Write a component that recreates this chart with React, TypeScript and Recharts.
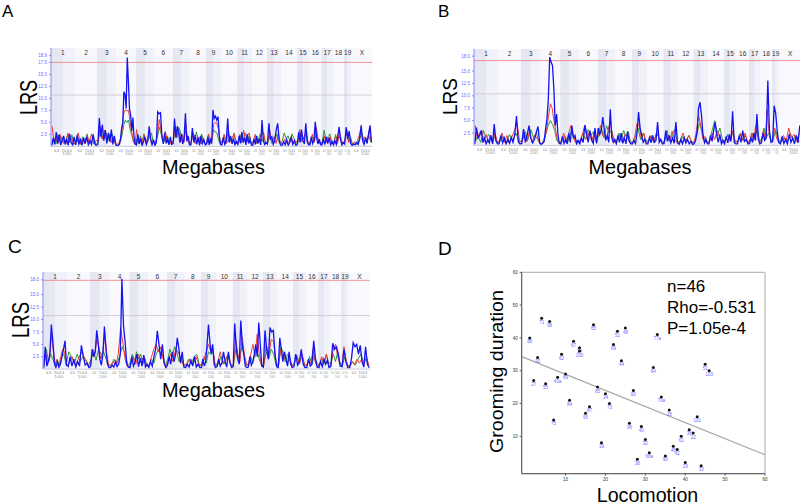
import {
  ComposedChart,
  Line,
  Scatter,
  XAxis,
  YAxis,
  ReferenceArea,
  ReferenceLine,
} from 'recharts'

// mouse genome, Mb per chromosome
const chromosomes = ['1', '2', '3', '4', '5', '6', '7', '8', '9', '10', '11', '12', '13', '14', '15', '16', '17', '18', '19', 'X']
const chromosomeLengths = [195.5, 182.1, 160.0, 156.5, 151.8, 149.7, 145.4, 129.4, 124.6, 130.7, 122.1, 120.1, 120.4, 124.9, 104.0, 98.2, 95.0, 90.7, 61.4, 171.0]

// LRS traces, one row per chromosome
const aBlue = [
  [0.2, 1.8, 0.4, 3.0, 0.6, 2.4, 0.3, 1.2, 2.2, 0.4, 1.6, 0.2, 2.6, 0.8, 0.3, 2.0],
  [0.3, 2.4, 0.5, 1.4, 0.2, 1.8, 0.6, 2.0, 0.3, 1.2, 0.4, 2.5, 0.5, 0.2],
  [0.4, 5.9, 2.0, 4.5, 1.2, 3.4, 0.6, 2.8, 1.0, 3.5, 0.4, 2.2, 0.3],
  [0.1, 0.2, 0.4, 1.6, 3.8, 5.0, 11.4, 10.8, 7.9, 18.5, 13.5, 7.8, 6.5, 3.2, 6.0, 2.0, 0.5],
  [0.3, 2.5, 0.5, 1.6, 0.2, 1.0, 2.0, 0.4, 1.2, 4.2, 1.5, 0.3, 1.4],
  [0.2, 0.8, 7.2, 6.8, 7.0, 2.0, 0.5, 2.8, 0.6, 1.6, 0.3, 2.0, 0.4],
  [0.6, 5.8, 1.8, 4.2, 3.0, 0.8, 2.6, 0.5, 1.5, 6.9, 1.0, 2.2, 0.3],
  [0.3, 3.8, 0.8, 2.4, 0.4, 1.8, 0.2, 2.2, 0.6, 1.4, 0.3],
  [0.5, 2.0, 0.3, 1.4, 0.6, 7.6, 5.8, 6.3, 5.5, 6.2, 2.0, 0.4],
  [0.3, 1.8, 0.4, 1.2, 5.8, 0.8, 2.2, 0.5, 1.6, 0.3, 1.0],
  [0.4, 2.2, 0.6, 3.0, 0.8, 1.8, 0.3, 2.5, 0.6, 1.5, 0.3],
  [0.2, 1.5, 0.4, 2.2, 0.6, 1.6, 0.3, 5.5, 1.2, 0.4, 0.8],
  [0.5, 4.8, 1.6, 2.0, 0.4, 1.2, 3.5, 4.8, 1.2, 0.3],
  [0.2, 1.0, 0.3, 1.4, 0.2, 0.8, 1.8, 0.4, 1.2, 0.2],
  [0.4, 3.0, 0.8, 3.5, 1.2, 0.5, 4.8, 1.0, 0.3],
  [0.3, 2.0, 0.6, 1.4, 5.1, 1.8, 0.5, 1.5, 0.3],
  [0.3, 1.5, 0.4, 2.0, 0.6, 1.8, 0.3, 1.0],
  [0.3, 1.2, 0.4, 2.0, 4.1, 1.5, 0.3, 0.8],
  [0.5, 4.0, 1.5, 3.2, 0.6],
  [0.2, 0.5, 0.3, 0.8, 0.4, 1.5, 4.4, 1.2, 0.4, 1.8, 0.6, 2.5, 4.4, 0.8],
]
const aRed = [
  [4.3, 1.0, 2.0, 0.6, 2.5, 0.8, 1.5, 0.5, 2.8, 1.0, 1.6, 0.5],
  [0.8, 2.8, 0.6, 1.5, 0.5, 2.2, 0.8, 2.6, 0.5, 1.2],
  [1.2, 4.0, 1.5, 3.4, 1.0, 2.6, 0.8, 2.0, 0.5],
  [0.4, 0.8, 1.5, 3.6, 6.9, 7.6, 7.4, 7.5, 5.0, 3.0, 1.2, 0.5],
  [3.5, 1.0, 1.8, 0.5, 2.4, 0.8, 1.8, 3.0, 0.6, 1.0],
  [0.6, 2.0, 5.6, 3.0, 1.0, 3.2, 0.8, 1.2, 0.4],
  [1.2, 4.2, 2.0, 3.5, 1.0, 2.5, 0.8, 4.5, 1.5, 0.6],
  [0.8, 2.8, 0.6, 1.4, 2.0, 0.5, 1.6, 0.6],
  [0.6, 2.5, 0.8, 1.2, 4.6, 5.0, 4.8, 3.5, 0.8],
  [1.0, 2.4, 0.6, 3.2, 1.0, 1.8, 2.6, 0.6],
  [0.6, 2.0, 0.8, 3.4, 1.2, 2.2, 2.8, 0.6],
  [0.8, 2.5, 0.6, 1.5, 2.0, 3.0, 0.6],
  [1.0, 3.0, 1.0, 2.0, 0.6, 2.8, 0.8],
  [0.5, 1.5, 0.6, 1.0, 2.0, 0.5, 1.2],
  [0.8, 3.5, 1.0, 2.0, 3.2, 0.8],
  [0.8, 2.5, 1.0, 4.0, 1.2, 0.6],
  [0.6, 2.2, 0.8, 1.5, 2.0, 0.5],
  [0.8, 2.2, 0.6, 3.0, 1.6, 0.5],
  [1.0, 3.0, 0.8, 1.5],
  [0.4, 1.0, 0.6, 2.0, 3.5, 1.2, 2.0, 0.8, 3.4, 1.0],
]
const aGreen = [
  [0.4, 1.5, 0.5, 2.5, 1.0, 2.0, 0.6, 1.2, 2.6, 0.8, 2.4, 0.5],
  [0.6, 1.5, 0.4, 2.0, 1.0, 2.6, 0.6, 1.2, 1.8, 0.4],
  [0.8, 3.5, 1.6, 2.8, 3.0, 1.2, 2.2, 2.8, 1.5, 0.5],
  [0.2, 0.6, 1.0, 2.5, 4.5, 5.5, 5.0, 5.5, 3.5, 2.5, 1.0, 0.4],
  [1.5, 0.6, 2.2, 1.0, 2.6, 0.6, 1.2, 2.0, 2.8, 0.8],
  [0.8, 1.8, 4.0, 2.5, 0.8, 1.5, 2.2, 0.6, 1.0],
  [1.0, 3.5, 1.8, 4.0, 3.0, 1.0, 2.0, 3.2, 2.0, 0.6],
  [0.8, 2.5, 1.0, 3.0, 1.5, 0.6, 2.6, 1.2, 0.5],
  [0.8, 2.6, 0.6, 1.5, 3.5, 3.0, 2.8, 1.2, 0.5],
  [1.2, 2.5, 0.6, 1.2, 2.0, 0.8, 2.8, 0.6],
  [0.8, 2.5, 1.0, 1.5, 2.8, 1.0, 2.2, 0.6],
  [1.0, 2.0, 0.6, 1.5, 2.6, 1.0, 1.8, 0.5],
  [0.8, 2.2, 0.6, 1.5, 2.6, 1.2, 0.5],
  [1.2, 2.8, 1.6, 2.2, 1.0, 2.6, 1.8, 0.6],
  [0.8, 2.6, 1.0, 1.8, 2.4, 0.6],
  [0.6, 2.0, 0.8, 2.8, 1.5, 0.5],
  [1.0, 3.4, 1.2, 2.0, 2.6, 0.8],
  [0.8, 2.5, 1.0, 2.0, 1.2, 0.5],
  [1.2, 3.5, 1.0, 2.0],
  [0.3, 0.8, 0.4, 1.5, 2.8, 1.0, 1.5, 2.2, 0.8],
]

const bBlue = [
  [0.3, 3.6, 1.5, 2.0, 3.0, 0.6, 1.5, 0.3, 1.2, 0.5, 2.0, 0.3, 4.3, 1.0, 0.3],
  [0.3, 2.0, 0.5, 1.5, 0.3, 1.2, 0.4, 1.6, 0.6, 2.2, 5.9, 0.8, 0.3],
  [0.4, 3.3, 0.6, 2.0, 4.0, 1.5, 0.5, 1.2, 2.5, 3.8, 0.4],
  [0.2, 0.4, 0.8, 3.3, 5.3, 9.3, 17.8, 16.8, 16.1, 11.4, 4.0, 6.3, 2.0, 0.4],
  [0.3, 1.8, 0.4, 1.2, 0.3, 2.5, 0.6, 4.0, 1.5, 2.0, 0.3, 1.0],
  [0.3, 1.5, 0.6, 4.1, 2.5, 0.6, 3.0, 1.2, 0.4, 3.5, 0.4],
  [3.5, 2.2, 3.0, 5.7, 3.2, 1.0, 2.0, 0.6, 7.3, 1.5, 0.6, 1.2],
  [0.3, 2.0, 0.6, 2.5, 0.4, 1.5, 0.3, 2.8, 0.8, 0.3],
  [0.3, 1.0, 0.4, 2.5, 6.7, 3.5, 2.0, 0.6, 1.2, 0.3],
  [0.3, 1.6, 0.5, 2.0, 0.6, 1.0, 4.7, 0.6, 1.2, 0.3],
  [0.4, 3.0, 0.8, 2.0, 0.5, 1.5, 0.4, 4.7, 0.5],
  [0.2, 1.2, 0.3, 1.5, 0.5, 1.2, 0.3, 0.8, 0.2],
  [0.3, 1.0, 2.5, 7.5, 8.7, 6.0, 2.0, 0.5, 1.2, 0.3],
  [0.3, 2.0, 0.8, 3.0, 4.7, 2.0, 0.6, 2.2, 0.3, 1.0],
  [0.3, 1.8, 0.5, 2.2, 0.8, 6.9, 0.6, 0.3],
  [0.3, 2.0, 0.6, 3.0, 0.8, 1.2, 0.3],
  [0.4, 1.5, 0.6, 2.5, 1.0, 6.3, 1.2, 0.3],
  [0.5, 2.5, 1.0, 1.5, 13.1, 3.0, 0.6],
  [0.8, 8.0, 6.5, 3.0, 0.6],
  [0.3, 1.8, 0.4, 1.2, 0.3, 2.2, 0.6, 1.5, 0.3, 2.0, 0.5, 4.0],
]
const bRed = [
  [4.1, 1.5, 2.5, 3.0, 0.8, 2.2, 0.6, 2.0, 0.5, 2.5, 0.8],
  [0.8, 2.5, 0.6, 2.0, 0.5, 1.8, 3.0, 4.5, 0.8],
  [0.8, 2.5, 0.8, 2.8, 0.6, 2.0, 1.5, 0.5],
  [0.3, 0.8, 1.5, 3.5, 6.0, 8.4, 7.5, 5.0, 3.0, 1.0, 0.4],
  [0.8, 2.5, 0.6, 2.0, 4.0, 2.2, 0.6, 1.0],
  [0.8, 2.2, 4.0, 1.2, 2.8, 0.8, 2.5, 0.6],
  [2.5, 4.0, 2.0, 3.0, 1.2, 3.5, 5.0, 1.5, 0.6],
  [0.8, 2.0, 0.6, 2.2, 1.5, 0.5],
  [0.6, 1.8, 4.5, 3.8, 1.2, 2.5, 0.6],
  [0.8, 2.0, 0.6, 2.5, 1.5, 0.5],
  [0.8, 2.2, 0.8, 2.8, 1.2, 0.5],
  [0.8, 2.5, 0.8, 2.0, 0.6],
  [0.6, 3.0, 6.0, 4.0, 1.2, 1.8, 0.5],
  [0.8, 2.5, 1.2, 3.0, 1.5, 0.6],
  [1.0, 2.0, 0.8, 3.0, 0.6],
  [0.8, 2.2, 1.0, 2.5, 0.6],
  [0.8, 2.5, 1.0, 4.0, 2.0, 0.6],
  [1.0, 3.0, 1.2, 7.3, 2.5, 0.8],
  [1.2, 3.5, 1.5, 0.6],
  [0.6, 2.0, 0.8, 3.5, 1.5, 2.2, 0.8, 2.5],
]
const bGreen = [
  [0.8, 2.0, 0.6, 3.0, 1.5, 2.2, 0.8, 1.8, 0.5],
  [0.8, 1.8, 0.6, 2.2, 1.0, 2.5, 0.6],
  [1.0, 2.8, 1.2, 3.2, 1.5, 2.5, 0.6],
  [0.3, 1.2, 2.5, 4.0, 5.0, 4.2, 3.0, 1.0, 0.4],
  [0.8, 2.0, 0.8, 2.6, 1.5, 0.6],
  [1.0, 2.5, 1.2, 3.2, 2.0, 2.8, 0.8],
  [2.0, 3.5, 1.5, 4.0, 2.5, 3.0, 1.0],
  [0.8, 2.5, 1.0, 3.0, 1.8, 2.8, 0.8],
  [0.6, 2.0, 3.5, 1.2, 2.5, 1.0],
  [0.8, 1.8, 0.6, 2.5, 1.5, 0.6],
  [0.8, 3.0, 1.0, 2.0, 3.2, 0.8],
  [0.6, 1.8, 0.8, 2.0, 0.6],
  [0.8, 2.5, 4.5, 3.0, 1.0, 0.5],
  [1.0, 3.0, 5.0, 2.0, 3.5, 1.2],
  [0.8, 2.2, 1.0, 2.5, 0.8],
  [0.8, 2.5, 1.0, 2.0, 0.6],
  [1.0, 2.5, 1.2, 3.5, 1.0],
  [1.2, 3.5, 1.5, 2.5, 1.0],
  [1.2, 3.0, 1.2],
  [0.6, 1.5, 0.6, 2.5, 1.2, 2.0, 0.8],
]

const cBlue = [
  [0.3, 4.5, 0.6, 1.5, 3.0, 9.0, 5.5, 1.2, 0.3, 1.5, 0.4, 1.0, 2.5, 4.0, 5.7, 0.8],
  [0.5, 2.5, 0.6, 2.0, 0.4, 1.5, 0.6, 4.8, 2.5, 0.8, 1.2, 0.3],
  [0.6, 4.0, 2.5, 3.5, 7.8, 5.0, 2.0, 0.8, 3.0, 8.6, 4.0, 1.0, 0.3],
  [0.3, 0.8, 0.4, 1.5, 0.5, 1.0, 3.0, 18.2, 8.7, 5.5, 1.0, 0.4],
  [0.3, 2.5, 0.6, 1.5, 3.0, 0.5, 2.2, 0.6, 2.8, 0.4, 1.0],
  [0.3, 1.5, 0.6, 2.5, 4.0, 7.7, 5.0, 2.0, 5.0, 1.2, 0.3],
  [0.8, 2.5, 1.0, 3.5, 1.5, 3.0, 6.3, 4.0, 1.2, 3.5, 0.4],
  [0.3, 1.0, 0.4, 1.8, 0.6, 2.5, 0.4, 1.0, 0.3],
  [0.3, 2.0, 0.6, 1.5, 5.0, 9.0, 5.5, 3.0, 5.0, 1.0, 0.3],
  [0.5, 2.0, 0.6, 1.2, 3.5, 1.5, 0.4, 3.5, 1.2, 0.3],
  [0.5, 9.2, 4.5, 2.0, 1.0, 9.8, 5.0, 3.0, 0.6, 0.3],
  [0.4, 2.5, 0.8, 1.5, 3.0, 5.0, 2.5, 9.4, 5.0, 0.6],
  [0.4, 7.8, 4.0, 2.0, 8.4, 7.5, 7.8, 3.0, 0.5],
  [0.3, 6.3, 4.0, 1.5, 3.5, 2.0, 0.6, 3.5, 1.0, 0.3],
  [0.5, 3.0, 0.8, 1.5, 4.0, 1.0, 0.3],
  [0.3, 2.0, 0.6, 1.0, 5.7, 2.0, 0.4],
  [0.3, 1.5, 0.5, 2.0, 1.0, 1.8, 0.3],
  [0.5, 5.2, 4.0, 4.5, 3.0, 0.6],
  [0.5, 4.0, 1.5, 0.3],
  [0.3, 2.0, 5.3, 4.5, 5.0, 3.0, 4.8, 1.5, 0.4, 4.5, 1.0, 0.3],
]
const cRed = [
  [0.8, 3.0, 1.2, 2.0, 6.7, 4.0, 1.0, 2.0, 0.6, 2.5, 4.0, 3.5, 0.8],
  [1.0, 2.5, 0.8, 2.2, 3.5, 2.0, 0.6],
  [1.2, 4.0, 3.0, 6.0, 4.5, 2.0, 3.5, 7.0, 3.0, 0.8],
  [0.6, 1.5, 0.8, 3.0, 8.5, 5.0, 1.5, 0.4],
  [0.8, 2.5, 1.0, 3.0, 1.2, 2.5, 0.6],
  [0.8, 2.5, 4.0, 5.0, 3.5, 4.5, 2.0, 0.6],
  [1.2, 3.0, 1.5, 4.0, 3.5, 2.0, 0.8],
  [0.8, 2.0, 0.8, 2.5, 0.8],
  [0.8, 2.0, 3.5, 5.0, 3.5, 4.0, 0.8],
  [1.2, 3.5, 1.0, 2.0, 3.0, 0.8],
  [0.8, 6.0, 3.0, 1.5, 6.5, 3.0, 0.8],
  [1.2, 3.0, 5.0, 2.5, 7.0, 3.0, 0.8],
  [0.8, 5.0, 2.5, 6.0, 5.5, 1.2],
  [0.8, 4.0, 2.0, 2.5, 1.2, 2.0, 0.6],
  [1.2, 2.5, 1.0, 3.0, 0.8],
  [0.8, 2.0, 1.0, 4.0, 1.5, 0.6],
  [0.8, 2.5, 1.2, 3.0, 0.6],
  [0.8, 4.0, 5.0, 2.5, 0.8],
  [0.8, 4.5, 2.0, 0.6],
  [0.6, 1.5, 0.8, 2.0, 1.2, 2.0, 1.0, 2.5, 0.8],
]
const cGreen = [
  [1.2, 4.0, 1.5, 3.0, 2.0, 0.8, 1.8, 0.6, 2.5, 3.0, 0.8],
  [3.5, 2.5, 1.2, 3.0, 1.5, 2.5, 2.0, 0.8],
  [2.0, 3.5, 1.8, 4.0, 3.0, 3.5, 2.0, 0.8],
  [0.8, 2.0, 1.0, 2.5, 4.5, 3.0, 0.8],
  [1.2, 3.0, 1.5, 3.5, 2.0, 3.0, 1.0, 2.2, 0.6],
  [0.8, 2.0, 1.2, 3.0, 4.0, 3.0, 2.5, 0.8],
  [2.0, 4.0, 2.5, 4.5, 3.5, 1.5, 2.5, 0.8],
  [0.8, 2.0, 1.0, 2.5, 3.0, 0.8],
  [0.8, 2.5, 1.2, 3.5, 3.0, 3.5, 0.8],
  [0.8, 2.5, 1.0, 2.8, 0.8],
  [0.8, 4.0, 2.0, 3.0, 4.5, 2.5, 0.8],
  [0.8, 2.5, 1.2, 3.0, 3.5, 2.0, 0.8],
  [0.8, 3.5, 2.0, 4.0, 3.0, 0.8],
  [0.8, 4.5, 3.5, 1.5, 3.0, 2.5, 0.8],
  [1.0, 2.8, 1.2, 3.0, 0.8],
  [0.8, 2.5, 1.0, 3.0, 1.2],
  [0.8, 2.0, 1.0, 3.0, 1.2],
  [1.2, 3.0, 1.5, 3.5, 1.2],
  [0.8, 2.5, 0.8],
  [0.6, 1.5, 0.8, 2.0, 3.0, 1.5, 2.0, 0.8],
]

// panel D: rank of locomotion vs rank of grooming duration
const locomotionRank = [1, 2, 3, 4, 5, 6, 7, 8, 9, 10, 11, 12, 13.5, 13.5, 15, 16, 17, 18, 19, 20, 21, 22, 23, 24, 25, 26, 27, 28, 29, 30, 31, 32, 33, 34, 35, 36, 37, 38, 39, 40, 41, 42, 43, 44, 45, 46]
const groomingRank = [40, 27, 34, 46, 26, 45, 15, 28, 35, 29, 21, 39, 37, 36, 17, 19, 44, 25, 8, 23, 20, 38, 42, 33, 43, 14, 24, 3, 13, 9, 5, 31, 41, 22, 4, 18, 7, 6, 10, 2, 12, 11, 16, 1, 32, 30]
const strainLabels = ['86', '27', '92', '71', '55', '98', '75', '43a', '62', '69', '84', '67', '34', '100', '56', '87', '65', '85', '39', '24', '73', '89', '51', '44', '48', '96', '60', '38', '40', '32', '68a', '64', '77a', '70a', '90', '28', '45', '42', '61', '29', '36', '22', '101', '33', '51', '103']
const fitLine = [
  { x: -1, y: 34.3 },
  { x: 60, y: 4.4 },
]
const statsLines = ['n=46', 'Rho=-0.531', 'P=1.05e-4']

const chrStarts = chromosomeLengths.map((_, i) => chromosomeLengths.slice(0, i).reduce((s, v) => s + v, 0))
const genomeLength = chromosomeLengths.reduce((s, v) => s + v, 0)
const chrCenters = chrStarts.map((s, i) => s + chromosomeLengths[i] / 2)

function traceFrom(values: number[][]) {
  const out: { mb: number; lrs: number }[] = []
  values.forEach((chr, i) => {
    chr.forEach((v, j) => {
      out.push({ mb: chrStarts[i] + ((j + 0.5) / chr.length) * chromosomeLengths[i], lrs: v })
    })
  })
  return out
}

const Y_AXIS_W = 30
const X_AXIS_H = 14
const FONT = '"Liberation Sans", Arial, sans-serif'

// eslint-disable-next-line @typescript-eslint/no-explicit-any
function MbTick({ x, y, index, plotWidth }: any) {
  const w = (chromosomeLengths[index] / genomeLength) * plotWidth
  return (
    <g>
      <text x={x} y={y + 3.2} fontSize={2.8} fill="#9a9a9a" textAnchor="middle" fontFamily={FONT} textLength={w * 0.75} lengthAdjust="spacingAndGlyphs">0 50</text>
      <text x={x + w * 0.15} y={y + 6.6} fontSize={2.8} fill="#9a9a9a" textAnchor="middle" fontFamily={FONT} textLength={w * 0.4} lengthAdjust="spacingAndGlyphs">100</text>
    </g>
  )
}

type PanelProps = {
  left: number
  top: number
  plotWidth: number
  plotHeight: number
  yTop: number
  ticks: number[]
  sig: number
  sugg: number
  blue: number[][]
  red: number[][]
  green: number[][]
}

function LrsPanel(p: PanelProps) {
  return (
    <div style={{ position: 'absolute', left: p.left - Y_AXIS_W, top: p.top }}>
      <ComposedChart
        width={Y_AXIS_W + p.plotWidth}
        height={p.plotHeight + X_AXIS_H}
        margin={{ top: 0, right: 0, bottom: 0, left: 0 }}
      >
        {chrStarts.map((s, i) =>
          i % 2 === 0 ? (
            <ReferenceArea key={'d' + i} x1={s} x2={s + chromosomeLengths[i] / 2} y1={0} y2={p.yTop} fill="#e5e7f3" fillOpacity={1} stroke="none" />
          ) : null
        )}
        {chrStarts.map((s, i) => (
          <ReferenceArea
            key={'l' + i}
            x1={i % 2 === 0 ? s + chromosomeLengths[i] / 2 : s}
            x2={s + chromosomeLengths[i]}
            y1={0}
            y2={p.yTop}
            fill={i % 2 === 0 ? '#f0f1f9' : '#f8f8fd'}
            fillOpacity={1}
            stroke="none"
          />
        ))}
        {chrStarts.map((s, i) => (
          <ReferenceArea
            key={'n' + i}
            x1={s}
            x2={s + chromosomeLengths[i]}
            y1={0}
            y2={p.yTop}
            fillOpacity={0}
            stroke="none"
            label={{ value: chromosomes[i], position: 'insideTop', offset: 2, fontSize: 6.5, fill: '#333', fontFamily: FONT }}
          />
        ))}
        <XAxis
          type="number"
          dataKey="mb"
          domain={[0, genomeLength]}
          ticks={chrCenters}
          interval={0}
          tick={<MbTick plotWidth={p.plotWidth} />}
          tickLine={false}
          tickSize={0}
          axisLine={{ stroke: '#c8c8d8' }}
          height={X_AXIS_H}
          allowDataOverflow
        />
        <YAxis
          type="number"
          domain={[0, p.yTop]}
          ticks={p.ticks}
          interval={0}
          tickFormatter={(v) => v.toFixed(1)}
          tick={{ fontSize: 4.5, fill: '#6b6bff', fontFamily: FONT }}
          tickSize={2}
          tickLine={{ stroke: '#8888ff' }}
          axisLine={{ stroke: '#8888ff' }}
          width={Y_AXIS_W}
          allowDataOverflow
        />
        <ReferenceLine y={p.sig} stroke="#f07a7a" strokeWidth={0.8} />
        <ReferenceLine y={p.sugg} stroke="#cfc3d3" strokeWidth={0.8} />
        <Line data={traceFrom(p.green)} dataKey="lrs" stroke="#2f9a2f" strokeWidth={1} dot={false} isAnimationActive={false} />
        <Line data={traceFrom(p.red)} dataKey="lrs" stroke="#f03a3a" strokeWidth={1} dot={false} isAnimationActive={false} />
        <Line data={traceFrom(p.blue)} dataKey="lrs" stroke="#1414f0" strokeWidth={1.3} dot={false} isAnimationActive={false} />
      </ComposedChart>
    </div>
  )
}

// eslint-disable-next-line @typescript-eslint/no-explicit-any
function StrainDot({ cx, cy, payload }: any) {
  return (
    <g>
      <circle cx={cx} cy={cy} r={1.5} fill="#111" />
      <text x={cx} y={cy + 5.5} fontSize={4.5} fill="#6a6aff" textAnchor="middle" fontFamily={FONT}>
        {payload.strain}
      </text>
    </g>
  )
}

const scatterData = locomotionRank.map((x, i) => ({ x, y: groomingRank[i], strain: strainLabels[i] }))
const scatterTicks = [10, 20, 30, 40, 50, 60]

function RankScatter() {
  return (
    <div style={{ position: 'absolute', left: 480, top: 250 }}>
      <ComposedChart width={295} height={240} margin={{ top: 22.3, right: 10, bottom: 0, left: 0 }}>
        <XAxis
          type="number"
          dataKey="x"
          domain={[-1, 60]}
          ticks={scatterTicks}
          tick={{ fontSize: 4.5, fill: '#333', fontFamily: FONT }}
          tickSize={2}
          tickLine={{ stroke: '#555' }}
          axisLine={{ stroke: '#555' }}
          height={16.3}
          allowDataOverflow
        />
        <YAxis
          type="number"
          dataKey="y"
          domain={[-1.4, 60]}
          ticks={scatterTicks}
          tick={{ fontSize: 4.5, fill: '#333', fontFamily: FONT }}
          tickSize={2}
          tickLine={{ stroke: '#555' }}
          axisLine={{ stroke: '#555' }}
          width={41.7}
          allowDataOverflow
        />
        <ReferenceArea x1={-1} x2={60} y1={-1.4} y2={60} fill="none" stroke="#aaa" strokeWidth={1} />
        <ReferenceLine segment={fitLine} stroke="#a8a8a8" strokeWidth={1.2} ifOverflow="visible" />
        <Scatter data={scatterData} shape={<StrainDot />} isAnimationActive={false} />
      </ComposedChart>
    </div>
  )
}

const lrsTicks = [2.5, 5, 7.5, 10, 12.5, 15]

export default function App() {
  return (
    <div style={{ position: 'absolute', left: 0, top: 0, width: 800, height: 503, overflow: 'hidden', background: '#fff' }}>
      <LrsPanel left={51.4} top={48.3} plotWidth={321.3} plotHeight={98.4} yTop={20.5} ticks={[...lrsTicks, 17.5, 18.9]} sig={17.5} sugg={10.7} blue={aBlue} red={aRed} green={aGreen} />
      <LrsPanel left={473.9} top={48.7} plotWidth={326.7} plotHeight={96.4} yTop={19.44} ticks={[...lrsTicks, 18.0]} sig={17.1} sugg={10.4} blue={bBlue} red={bRed} green={bGreen} />
      <LrsPanel left={42.9} top={272} plotWidth={327} plotHeight={97.1} yTop={19.58} ticks={[...lrsTicks, 18.0]} sig={17.9} sugg={10.8} blue={cBlue} red={cRed} green={cGreen} />
      <RankScatter />
      <svg width={800} height={503} style={{ position: 'absolute', left: 0, top: 0, pointerEvents: 'none' }} fontFamily={FONT}>
        <text x={2} y={17} fontSize={17}>A</text>
        <text x={438} y={17} fontSize={17}>B</text>
        <text x={8} y={253} fontSize={19}>C</text>
        <text x={438} y={255} fontSize={19}>D</text>

        <text x={37} y={97.5} fontSize={23} textAnchor="middle" transform="rotate(-90 37 97.5)" textLength={35} lengthAdjust="spacingAndGlyphs">LRS</text>
        <text x={457} y={96.5} fontSize={21} textAnchor="middle" transform="rotate(-90 457 96.5)" textLength={37} lengthAdjust="spacingAndGlyphs">LRS</text>
        <text x={29} y={320} fontSize={23} textAnchor="middle" transform="rotate(-90 29 320)" textLength={36} lengthAdjust="spacingAndGlyphs">LRS</text>

        <text x={213.5} y={174} fontSize={19.5} textAnchor="middle" textLength={103} lengthAdjust="spacingAndGlyphs">Megabases</text>
        <text x={640} y={174} fontSize={19.5} textAnchor="middle" textLength={103} lengthAdjust="spacingAndGlyphs">Megabases</text>
        <text x={213.5} y={397} fontSize={19.5} textAnchor="middle" textLength={103} lengthAdjust="spacingAndGlyphs">Megabases</text>

        <text x={503} y={371.5} fontSize={19} textAnchor="middle" transform="rotate(-90 503 371.5)" textLength={163} lengthAdjust="spacingAndGlyphs">Grooming duration</text>
        <text x={647.5} y={502} fontSize={19.5} textAnchor="middle" textLength={101.5} lengthAdjust="spacingAndGlyphs">Locomotion</text>
        {statsLines.map((s, i) => (
          <text key={s} x={667} y={292 + i * 21} fontSize={17}>{s}</text>
        ))}
      </svg>
    </div>
  )
}
